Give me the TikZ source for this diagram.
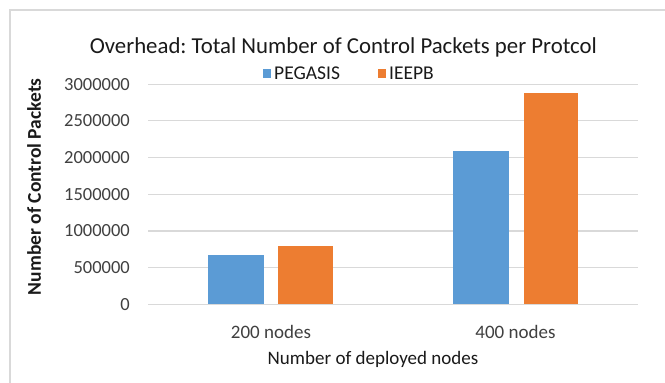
\documentclass[tikz,border=0pt]{standalone}
\usepackage{fontspec}
\setmainfont{Carlito}
\frenchspacing
\definecolor{barblue}{HTML}{5B9BD5}
\definecolor{barorange}{HTML}{ED7D31}
\definecolor{gridgray}{HTML}{D9D9D9}
\definecolor{framegray}{HTML}{D9D9D9}
\definecolor{ticktext}{HTML}{404040}
\definecolor{titletext}{HTML}{1A1A1A}
\tikzset{
  ticklabel/.style={anchor=east, inner sep=0pt, text=ticktext, font=\fontsize{18.5}{20}\selectfont},
  catlabel/.style={anchor=center, inner sep=0pt, text=ticktext, font=\fontsize{19}{20}\selectfont},
  axistitle/.style={anchor=center, inner sep=0pt, text=titletext, font=\fontsize{19}{20}\selectfont},
  yaxistitle/.style={anchor=center, inner sep=0pt, text=titletext, font=\fontsize{19.5}{21}\selectfont\bfseries},
  charttitle/.style={anchor=base, inner sep=0pt, text=titletext, font=\fontsize{22.8}{27}\selectfont},
  legendtext/.style={anchor=west, inner sep=0pt, text=titletext, font=\fontsize{19.5}{21}\selectfont},
  gridline/.style={draw=gridgray, line width=1.2pt},
}
\begin{document}
\begin{tikzpicture}[x=1pt,y=-1pt]
\useasboundingbox (0,0) rectangle (665,383);
\fill[white] (0,0) rectangle (665,383);
% chart frame
\draw[framegray, line width=2pt] (9.5,400) -- (9.5,9.5) -- (680,9.5);
% gridlines
\foreach \k/\lab in {0/0,1/500000,2/1000000,3/1500000,4/2000000,5/2500000,6/3000000}{
  \draw[gridline] (148,{304.3-\k*36.7}) -- (638,{304.3-\k*36.7});
  \node[ticklabel] (tick\k) at (130,{304.3-\k*36.7}) {\lab};
}
% bars
\fill[barblue]   (208.3,304.3) rectangle (263.7,255);
\fill[barorange] (277.7,304.3) rectangle (333,246.3);
\fill[barblue]   (453.3,304.3) rectangle (508.7,151);
\fill[barorange] (524,304.3) rectangle (578,93);
% category labels
\node[catlabel] (cat200) at (271,332) {200 nodes};
\node[catlabel] (cat400) at (515.5,332) {400 nodes};
% axis titles
\node[axistitle] (xtitle) at (373,359) {Number of deployed nodes};
\node[yaxistitle, rotate=90] (ytitle) at (34,186.7) {Number of Control Packets};
% title
\node[charttitle] (title) at (343.3,53.3) {Overhead: Total Number of Control Packets per Protcol};
% legend
\fill[barblue] (263,69) rectangle (271,77.5);
\node[legendtext] (legpeg) at (274,73.3) {PEGASIS};
\fill[barorange] (377.5,69) rectangle (385.5,77.5);
\node[legendtext] (legiee) at (389,73.3) {IEEPB};
\end{tikzpicture}
\end{document}
